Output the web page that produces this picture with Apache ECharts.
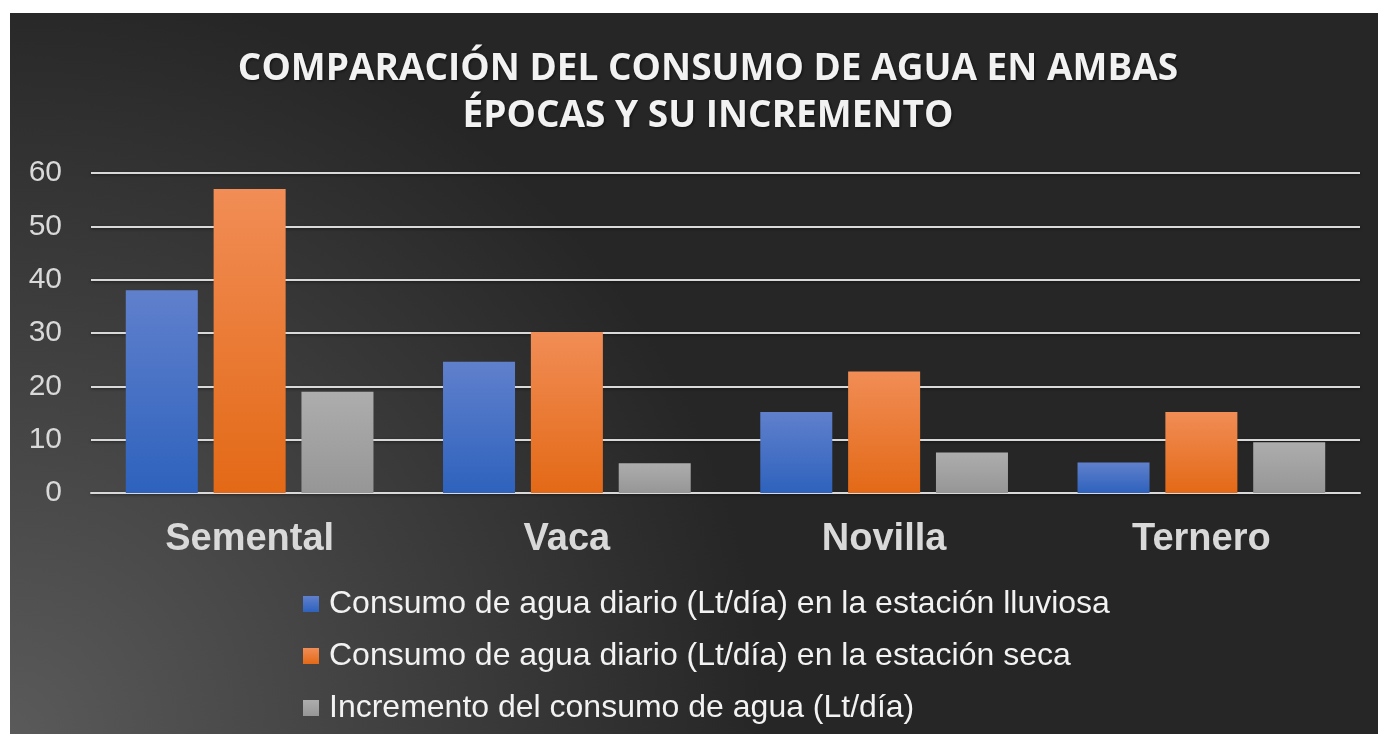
<!DOCTYPE html>
<html>
<head>
<meta charset="utf-8">
<script src="https://cdn.jsdelivr.net/npm/echarts@6/dist/echarts.min.js"></script>
<style>
  html, body { margin: 0; padding: 0; background: #fff; }
  #chart { position: absolute; left: 10px; top: 13px; width: 1368px; height: 721px; }
</style>
</head>
<body>
<div id="chart"></div>
<script>
// datos
const categorias = ['Semental', 'Vaca', 'Novilla', 'Ternero']
const lluviosa = [38, 24.6, 15.2, 5.7]
const seca = [57, 30.2, 22.8, 15.2]
const incremento = [19, 5.6, 7.6, 9.5]
const nombres = [
  'Consumo de agua diario (Lt/día) en la estación lluviosa',
  'Consumo de agua diario (Lt/día) en la estación seca',
  'Incremento del consumo de agua (Lt/día)'
]
const ticks = [0, 10, 20, 30, 40, 50, 60]

function grad(top, bottom) {
  return new echarts.graphic.LinearGradient(0, 0, 0, 1, [
    { offset: 0, color: top },
    { offset: 1, color: bottom }
  ])
}

function serie(name, data, top, bottom) {
  return {
    name: name,
    type: 'bar',
    data: data,
    barWidth: 72,
    barGap: '22%',
    itemStyle: {
      color: grad(top, bottom),
      shadowColor: 'rgba(0,0,0,0.55)',
      shadowBlur: 8,
      shadowOffsetX: 2,
      shadowOffsetY: 2
    }
  }
}

let myChart = echarts.init(document.getElementById('chart'))
let option = {
  backgroundColor: {
    type: 'radial', x: 0, y: 1, r: 1.05,
    colorStops: [
      { offset: 0, color: '#5a5a5a' },
      { offset: 1, color: '#262626' }
    ]
  },
  title: {
    text: 'COMPARACIÓN DEL CONSUMO DE AGUA EN AMBAS\nÉPOCAS Y SU INCREMENTO',
    left: 698,
    textAlign: 'center',
    top: 33,
    padding: 0,
    textStyle: {
      fontFamily: 'Open Sans',
      fontWeight: 'bold',
      fontSize: 37,
      lineHeight: 47,
      color: '#f2f2f2',
      textShadowColor: 'rgba(0,0,0,0.6)',
      textShadowBlur: 3,
      textShadowOffsetX: 1,
      textShadowOffsetY: 1
    }
  },
  legend: {
    orient: 'vertical',
    left: 293,
    top: 573,
    padding: 0,
    itemWidth: 16,
    itemHeight: 16,
    itemGap: 16,
    icon: 'rect',
    data: nombres,
    textStyle: {
      fontFamily: 'Liberation Sans',
      fontSize: 32,
      lineHeight: 36,
      color: '#f2f2f2',
      padding: [0, 0, 0, 5]
    }
  },
  grid: {
    left: 81,
    right: 18,
    top: 160,
    bottom: 241
  },
  xAxis: {
    type: 'category',
    data: categorias,
    axisTick: { show: false },
    axisLine: { lineStyle: { color: '#d9d9d9', width: 2 } },
    axisLabel: {
      margin: 28,
      fontFamily: 'Liberation Sans',
      fontWeight: 'bold',
      fontSize: 38,
      color: '#d9d9d9'
    }
  },
  yAxis: {
    type: 'value',
    min: ticks[0],
    max: ticks[ticks.length - 1],
    interval: 10,
    axisLine: { show: false },
    axisTick: { show: false },
    axisLabel: {
      margin: 29,
      fontFamily: 'Liberation Sans',
      fontSize: 30,
      color: '#d9d9d9'
    },
    splitLine: {
      lineStyle: {
        color: '#d9d9d9',
        width: 2,
        shadowColor: 'rgba(0,0,0,0.5)',
        shadowBlur: 3,
        shadowOffsetY: 1
      }
    }
  },
  series: [
    serie(nombres[0], lluviosa, '#6080cc', '#2e62bd'),
    serie(nombres[1], seca, '#f18d56', '#e36916'),
    serie(nombres[2], incremento, '#adadad', '#969696')
  ]
}
myChart.setOption(option)
</script>
</body>
</html>
